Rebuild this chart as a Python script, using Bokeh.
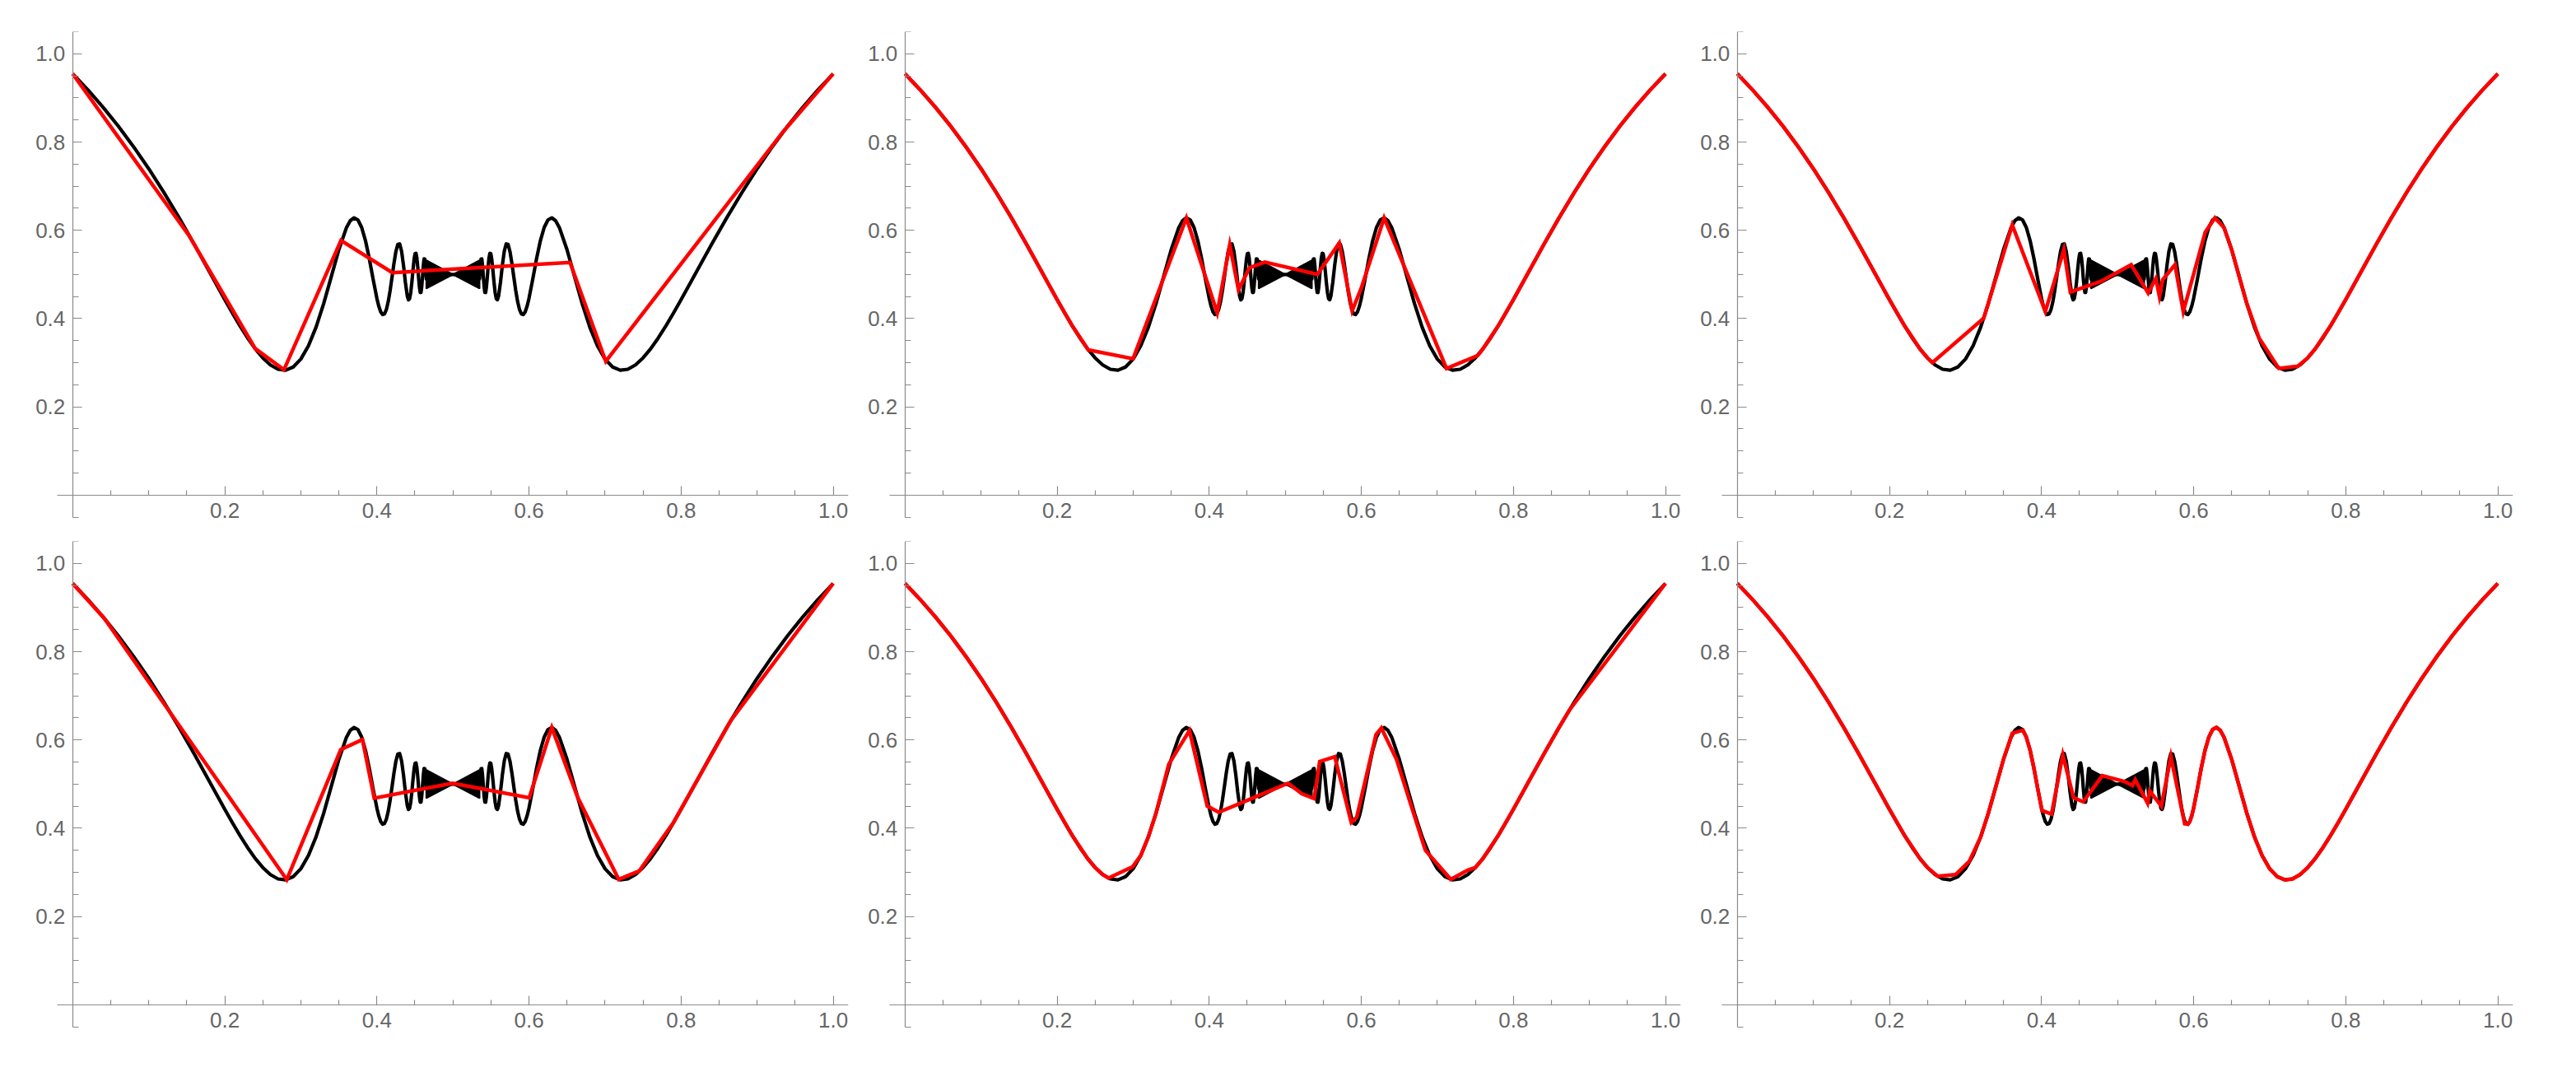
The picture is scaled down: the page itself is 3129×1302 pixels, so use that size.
from bokeh.plotting import figure
from bokeh.models import FixedTicker, NumeralTickFormatter, Range1d, Spacer
from bokeh.layouts import row, column
from bokeh.embed import file_html
from bokeh.resources import INLINE

# ---------------- data ----------------
# black curve, left half (x < 0.5)
BLACK_LEFT_X = [0.0, 0.02, 0.04, 0.06, 0.08, 0.10, 0.12, 0.14, 0.16, 0.18, 0.20,
                0.21, 0.22, 0.23, 0.24, 0.25, 0.26, 0.27, 0.28, 0.29, 0.30, 0.31, 0.32,
                0.33, 0.34, 0.35, 0.36, 0.365, 0.37, 0.375, 0.38, 0.385, 0.39, 0.395, 0.40,
                0.4025, 0.405, 0.4075, 0.41, 0.4125, 0.415, 0.4175, 0.42, 0.4225, 0.425,
                0.4275, 0.43, 0.4325, 0.435, 0.4375, 0.44, 0.4415, 0.443, 0.4445, 0.446,
                0.4475, 0.449, 0.4502, 0.4514, 0.4526, 0.4538, 0.455, 0.456, 0.457, 0.458,
                0.459, 0.460, 0.461, 0.462, 0.463, 0.464, 0.465]
BLACK_LEFT_Y = [0.9546, 0.9182, 0.8787, 0.8360, 0.7895, 0.7394, 0.6855, 0.6281, 0.5677, 0.5053, 0.4428,
                0.4124, 0.3833, 0.3561, 0.3315, 0.3108, 0.2949, 0.2851, 0.2830, 0.2903, 0.3082, 0.3382, 0.3804,
                0.4337, 0.4947, 0.5561, 0.6061, 0.6218, 0.6283, 0.6237, 0.6064, 0.5765, 0.5360, 0.4896, 0.4456,
                0.4279, 0.4152, 0.4091, 0.4106, 0.4206, 0.4390, 0.4645, 0.4947, 0.5256, 0.5520,
                0.5682, 0.5692, 0.5525, 0.5206, 0.4820, 0.4509, 0.4425, 0.4450, 0.4590, 0.4825,
                0.5103, 0.5351, 0.5469, 0.5480, 0.5370, 0.5157, 0.4897, 0.4704, 0.4590, 0.4593,
                0.4723, 0.4947, 0.5190, 0.5352, 0.5351, 0.5171, 0.4898]
BLACK_MID_X = [0.5]
BLACK_MID_Y = [0.5]
# black curve, right half (x > 0.5)
BLACK_RIGHT_X = [0.535, 0.536, 0.537, 0.538, 0.539, 0.540, 0.541, 0.542, 0.543, 0.544,
                 0.545, 0.5462, 0.5474, 0.5486, 0.5498, 0.551, 0.5525, 0.554, 0.5555, 0.557, 0.5585,
                 0.56, 0.5625, 0.565, 0.5675, 0.57, 0.5725, 0.575, 0.5775, 0.58, 0.5825, 0.585,
                 0.5875, 0.59, 0.5925, 0.595, 0.5975, 0.60, 0.605, 0.61, 0.615, 0.62, 0.625, 0.63,
                 0.635, 0.64, 0.65, 0.66, 0.67, 0.68, 0.69, 0.70, 0.71, 0.72, 0.73, 0.74, 0.75,
                 0.76, 0.77, 0.78, 0.79, 0.80, 0.82, 0.84, 0.86, 0.88, 0.90, 0.92, 0.94, 0.96, 0.98, 1.0]
BLACK_RIGHT_Y = [0.4898, 0.5171, 0.5351, 0.5352, 0.5190, 0.4947, 0.4723, 0.4593, 0.4590, 0.4704,
                 0.4897, 0.5157, 0.5370, 0.5480, 0.5469, 0.5351, 0.5103, 0.4825, 0.4590, 0.4450, 0.4425,
                 0.4509, 0.4820, 0.5206, 0.5525, 0.5692, 0.5682, 0.5520, 0.5256, 0.4947, 0.4645, 0.4390,
                 0.4206, 0.4106, 0.4091, 0.4152, 0.4279, 0.4456, 0.4896, 0.5360, 0.5765, 0.6064, 0.6237, 0.6283,
                 0.6218, 0.6061, 0.5561, 0.4947, 0.4337, 0.3804, 0.3382, 0.3082, 0.2903, 0.2830, 0.2851, 0.2949, 0.3108,
                 0.3315, 0.3561, 0.3833, 0.4124, 0.4428, 0.5053, 0.5677, 0.6281, 0.6855, 0.7394, 0.7895, 0.8360, 0.8787, 0.9182, 0.9546]
# dense oscillation band around x = 0.5 (envelope, drawn solid)
BAND_X = [0.465, 0.5, 0.535, 0.535, 0.5, 0.465]
BAND_Y = [0.532, 0.5, 0.532, 0.468, 0.5, 0.468]

# red sampled polylines, one per panel
RED_1_X = [0.0, 0.1526, 0.240, 0.2778, 0.3528, 0.4204, 0.654, 0.701, 0.934, 1.0]
RED_1_Y = [0.9546, 0.589, 0.332, 0.284, 0.577, 0.504, 0.527, 0.303, 0.823, 0.9546]

RED_2_X = [0.0, 0.02, 0.04, 0.06, 0.08, 0.10, 0.12, 0.14, 0.16, 0.18, 0.20, 0.22,
           0.241, 0.2998, 0.370, 0.4105, 0.427, 0.4385, 0.453, 0.473, 0.5422, 0.571, 0.588, 0.600, 0.630, 0.712, 0.753,
           0.76, 0.78, 0.80, 0.82, 0.84, 0.86, 0.88, 0.90, 0.92, 0.94, 0.96, 0.98, 1.0]
RED_2_Y = [0.9546, 0.9182, 0.8787, 0.8360, 0.7895, 0.7394, 0.6855, 0.6281, 0.5677, 0.5053, 0.4428, 0.3833,
           0.329, 0.309, 0.628, 0.413, 0.567, 0.465, 0.515, 0.528, 0.500, 0.571, 0.418, 0.469, 0.628, 0.287, 0.316,
           0.3315, 0.3833, 0.4428, 0.5053, 0.5677, 0.6281, 0.6855, 0.7394, 0.7895, 0.8360, 0.8787, 0.9182, 0.9546]

RED_3_X = [0.0, 0.02, 0.04, 0.06, 0.08, 0.10, 0.12, 0.14, 0.16, 0.18, 0.20, 0.22, 0.24,
           0.25, 0.2565, 0.324, 0.3615, 0.405, 0.4294, 0.4378, 0.4781, 0.5179, 0.5402, 0.5503, 0.555, 0.5593,
           0.5755, 0.5864, 0.6153, 0.628, 0.64, 0.65, 0.66, 0.67, 0.686, 0.712, 0.737, 0.75,
           0.76, 0.78, 0.80, 0.82, 0.84, 0.86, 0.88, 0.90, 0.92, 0.94, 0.96, 0.98, 1.0]
RED_3_Y = [0.9546, 0.9182, 0.8787, 0.8360, 0.7895, 0.7394, 0.6855, 0.6281, 0.5677, 0.5053, 0.4428, 0.3833, 0.3315,
           0.3108, 0.300, 0.401, 0.612, 0.416, 0.556, 0.460, 0.4845, 0.522, 0.458, 0.491, 0.450, 0.488,
           0.522, 0.416, 0.596, 0.628, 0.6061, 0.5561, 0.4947, 0.4337, 0.356, 0.287, 0.292, 0.3108,
           0.3315, 0.3833, 0.4428, 0.5053, 0.5677, 0.6281, 0.6855, 0.7394, 0.7895, 0.8360, 0.8787, 0.9182, 0.9546]

RED_4_X = [0.0, 0.0417, 0.125, 0.2815, 0.3525, 0.381, 0.3965, 0.4995, 0.6003, 0.630, 0.664, 0.718, 0.745, 0.79, 0.8656, 1.0]
RED_4_Y = [0.9546, 0.8753, 0.670, 0.2833, 0.578, 0.601, 0.468, 0.502, 0.469, 0.628, 0.470, 0.284, 0.303, 0.413, 0.6445, 0.9546]

RED_5_X = [0.0, 0.02, 0.04, 0.06, 0.08, 0.10, 0.12, 0.14, 0.16, 0.18, 0.20, 0.22, 0.24,
           0.25, 0.26, 0.2675, 0.2992, 0.31, 0.32, 0.33, 0.3469, 0.374, 0.3974, 0.4125, 0.5038, 0.5218,
           0.538, 0.5453, 0.5651, 0.5868, 0.594, 0.6193, 0.6264, 0.6463, 0.6842, 0.7177, 0.740, 0.75,
           0.76, 0.78, 0.80, 0.82, 0.84, 0.86, 0.874, 1.0]
RED_5_Y = [0.9546, 0.9182, 0.8787, 0.8360, 0.7895, 0.7394, 0.6855, 0.6281, 0.5677, 0.5053, 0.4428, 0.3833, 0.3315,
           0.3108, 0.2949, 0.287, 0.3125, 0.3382, 0.3804, 0.4337, 0.545, 0.621, 0.450, 0.436, 0.502, 0.478,
           0.467, 0.551, 0.562, 0.413, 0.425, 0.612, 0.627, 0.556, 0.350, 0.284, 0.305, 0.3108,
           0.3315, 0.3833, 0.4428, 0.5053, 0.5677, 0.6281, 0.6686, 0.9546]

RED_6_X = [0.0, 0.02, 0.04, 0.06, 0.08, 0.10, 0.12, 0.14, 0.16, 0.18, 0.20, 0.22, 0.24,
           0.25, 0.2635, 0.2869, 0.305, 0.32, 0.33, 0.34, 0.35, 0.3615, 0.3755, 0.38, 0.385, 0.39, 0.395,
           0.4006, 0.4132, 0.428, 0.4421, 0.4547, 0.48, 0.5088, 0.5196, 0.5232, 0.5395, 0.5424, 0.5575,
           0.5701, 0.5882, 0.5925, 0.595, 0.5975, 0.60, 0.605, 0.61, 0.615, 0.62, 0.625, 0.63, 0.635, 0.64,
           0.65, 0.66, 0.67, 0.68, 0.69, 0.70, 0.71, 0.72, 0.73, 0.74, 0.75, 0.76, 0.77, 0.78, 0.79,
           0.80, 0.82, 0.84, 0.86, 0.88, 0.90, 0.92, 0.94, 0.96, 0.98, 1.0]
RED_6_Y = [0.9546, 0.9182, 0.8787, 0.8360, 0.7895, 0.7394, 0.6855, 0.6281, 0.5677, 0.5053, 0.4428, 0.3833, 0.3315,
           0.3108, 0.2912, 0.2948, 0.325, 0.3804, 0.4337, 0.4947, 0.5561, 0.615, 0.622, 0.6064, 0.5765, 0.5360, 0.4896,
           0.440, 0.432, 0.566, 0.469, 0.460, 0.519, 0.506, 0.497, 0.510, 0.4565, 0.4845, 0.450,
           0.562, 0.410, 0.4091, 0.4152, 0.4279, 0.4456, 0.4896, 0.5360, 0.5765, 0.6064, 0.6237, 0.6283, 0.6218, 0.6061,
           0.5561, 0.4947, 0.4337, 0.3804, 0.3382, 0.3082, 0.2903, 0.2830, 0.2851, 0.2949, 0.3108, 0.3315, 0.3561, 0.3833, 0.4124,
           0.4428, 0.5053, 0.5677, 0.6281, 0.6855, 0.7394, 0.7895, 0.8360, 0.8787, 0.9182, 0.9546]

MAJOR_TICKS = [0.2, 0.4, 0.6, 0.8, 1.0]
X_MINOR = [0.05, 0.1, 0.15, 0.25, 0.3, 0.35, 0.45, 0.5, 0.55, 0.65, 0.7, 0.75, 0.85, 0.9, 0.95]
Y_MINOR = [-0.05, 0.05, 0.1, 0.15, 0.25, 0.3, 0.35, 0.45, 0.5, 0.55, 0.65, 0.7, 0.75, 0.85, 0.9, 0.95, 1.05]

AXIS_COLOR = "#8a8a8a"
LABEL_COLOR = "#666666"
FONT = "Liberation Sans"

BLACK_X = BLACK_LEFT_X + BLACK_MID_X + BLACK_RIGHT_X
BLACK_Y = BLACK_LEFT_Y + BLACK_MID_Y + BLACK_RIGHT_Y


def make_panel(rx, ry):
    # frame includes room for the tick labels (the axes cross at the origin)
    p = figure(frame_width=993, frame_height=603,
               x_range=Range1d(-0.055, 1.02), y_range=Range1d(-0.075, 1.05),
               output_backend="svg", toolbar_location=None, title=None,
               min_border_left=0, min_border_right=18, min_border_top=8, min_border_bottom=8)
    p.grid.visible = False
    p.outline_line_color = None
    p.background_fill_color = "white"
    p.border_fill_color = "white"

    for ax, minor in ((p.xaxis[0], X_MINOR), (p.yaxis[0], Y_MINOR)):
        ax.fixed_location = 0
        ax.ticker = FixedTicker(ticks=MAJOR_TICKS, minor_ticks=minor)
        ax.formatter = NumeralTickFormatter(format="0.0")
        ax.axis_line_color = AXIS_COLOR
        ax.axis_line_width = 1.2
        ax.major_tick_line_color = AXIS_COLOR
        ax.minor_tick_line_color = AXIS_COLOR
        ax.major_tick_line_width = 1.2
        ax.minor_tick_line_width = 1.2
        ax.major_tick_out = 0
        ax.minor_tick_out = 0
        ax.major_label_text_font = FONT
        ax.major_label_text_font_size = "26px"
        ax.major_label_text_color = LABEL_COLOR
    p.xaxis[0].bounds = (-0.02, 1.02)
    p.yaxis[0].bounds = (-0.05, 1.05)
    p.xaxis[0].major_tick_in = 11
    p.xaxis[0].minor_tick_in = 6
    p.xaxis[0].major_label_standoff = 10
    p.yaxis[0].major_tick_in = 11
    p.yaxis[0].minor_tick_in = 7
    p.yaxis[0].major_label_standoff = 9

    p.line(BLACK_X, BLACK_Y, line_color="black", line_width=4.2, line_join="round")
    p.patch(BAND_X, BAND_Y, fill_color="black", line_color="black", line_width=2)
    p.line(rx, ry, line_color="#ff0000", line_width=4.5, line_join="miter")
    return p


panels = [make_panel(RED_1_X, RED_1_Y), make_panel(RED_2_X, RED_2_Y), make_panel(RED_3_X, RED_3_Y),
          make_panel(RED_4_X, RED_4_Y), make_panel(RED_5_X, RED_5_Y), make_panel(RED_6_X, RED_6_Y)]

layout = row(Spacer(width=37, height=10),
             column(Spacer(width=10, height=30),
                    row(panels[0], panels[1], panels[2]),
                    row(panels[3], panels[4], panels[5])))

open("out.html", "w").write(file_html(layout, INLINE))
